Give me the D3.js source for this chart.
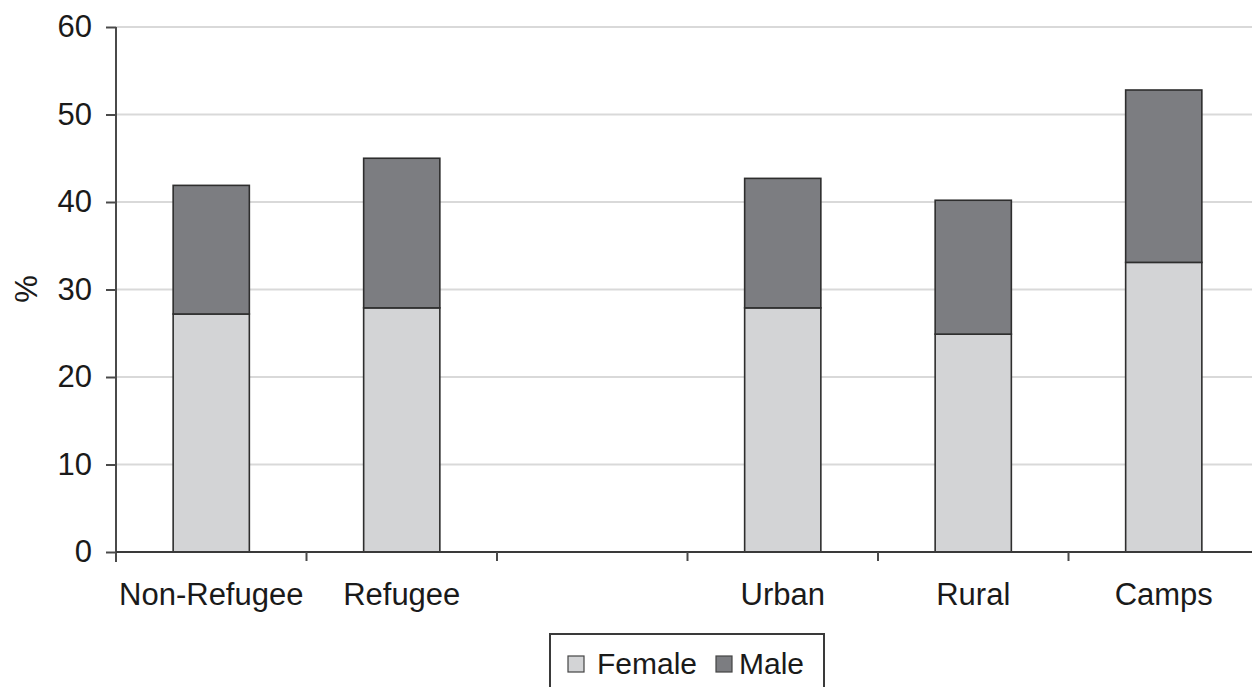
<!DOCTYPE html>
<html>
<head>
<meta charset="utf-8">
<script src="https://cdn.jsdelivr.net/npm/d3@7"></script>
<style>
  html, body { margin: 0; padding: 0; background: #fff; }
  svg { display: block; font-family: "Liberation Sans", Arial, sans-serif; }
</style>
</head>
<body>
<svg id="chart" width="1252" height="687"></svg>
<script>
// Share (%) by group, stacked Female + Male; the empty slot separates the two groupings
const categories = ["Non-Refugee", "Refugee", "", "Urban", "Rural", "Camps"];
const female = [27.2, 27.9, null, 27.9, 24.9, 33.1];
const male   = [14.7, 17.1, null, 14.8, 15.3, 19.7];
const yTicks = [0, 10, 20, 30, 40, 50, 60];
const seriesNames = ["Female", "Male"];
const seriesColors = ["#d3d4d6", "#7c7d81"];

(function draw() {
  const svg = d3.select("#chart");
  const W = 1252;
  const plotLeft = 116, plotBottom = 552, plotTop = 27;
  const slot = 190.5;

  const x = d3.scaleBand()
    .domain(categories.map((c, i) => i))
    .range([plotLeft, plotLeft + slot * categories.length])
    .paddingInner(0).paddingOuter(0);

  const y = d3.scaleLinear().domain([0, 60]).range([plotBottom, plotTop]);

  // gridlines
  svg.append("g").selectAll("line")
    .data(yTicks.filter(t => t > 0))
    .join("line")
    .attr("x1", plotLeft).attr("x2", W)
    .attr("y1", d => y(d)).attr("y2", d => y(d))
    .attr("stroke", "#d9d9d9").attr("stroke-width", 2);

  // stacked bars
  const rows = categories.map((c, i) => ({ i, Female: female[i], Male: male[i] }))
    .filter(r => r.Female != null);
  const stack = d3.stack().keys(seriesNames)(rows);
  const barW = x.bandwidth() * 0.4;

  svg.append("g").selectAll("g")
    .data(stack)
    .join("g")
    .attr("fill", (d, k) => seriesColors[k])
    .selectAll("rect")
    .data(d => d)
    .join("rect")
    .attr("x", d => x(d.data.i) + (x.bandwidth() - barW) / 2)
    .attr("width", barW)
    .attr("y", d => y(d[1]))
    .attr("height", d => y(d[0]) - y(d[1]))
    .attr("stroke", "#2e2e2e")
    .attr("stroke-width", 1.6);

  // y axis
  const yAxis = d3.axisLeft(y).tickValues(yTicks).tickSize(10).tickPadding(14).tickSizeOuter(0);
  const gy = svg.append("g").attr("transform", `translate(${plotLeft},0)`).call(yAxis);
  gy.select(".domain").remove();
  gy.selectAll(".tick line").attr("stroke", "#4a4a4a").attr("stroke-width", 2);
  gy.selectAll(".tick text").attr("font-size", 31).attr("fill", "#1a1a1a")
    .attr("font-family", "Liberation Sans, Arial, sans-serif");
  svg.append("line")
    .attr("x1", plotLeft).attr("x2", plotLeft)
    .attr("y1", plotTop).attr("y2", plotBottom + 10)
    .attr("stroke", "#4a4a4a").attr("stroke-width", 2);

  // x axis with ticks on slot boundaries
  svg.append("line")
    .attr("x1", plotLeft).attr("x2", W)
    .attr("y1", plotBottom).attr("y2", plotBottom)
    .attr("stroke", "#3a3a3a").attr("stroke-width", 2);
  const bounds = categories.map((c, i) => x(i)).concat([x(categories.length - 1) + x.bandwidth()]);
  svg.append("g").selectAll("line")
    .data(bounds.slice(1))
    .join("line")
    .attr("x1", d => d).attr("x2", d => d)
    .attr("y1", plotBottom).attr("y2", plotBottom + 9)
    .attr("stroke", "#4a4a4a").attr("stroke-width", 2);
  svg.append("g").selectAll("text")
    .data(categories.map((c, i) => ({ c, i })).filter(d => d.c))
    .join("text")
    .attr("x", d => x(d.i) + x.bandwidth() / 2)
    .attr("y", 605)
    .attr("text-anchor", "middle")
    .attr("font-size", 31)
    .attr("fill", "#1a1a1a")
    .text(d => d.c);

  // y axis title
  svg.append("text")
    .attr("transform", "translate(37,289) rotate(-90)")
    .attr("text-anchor", "middle")
    .attr("font-size", 31)
    .attr("fill", "#1a1a1a")
    .text("%");

  // legend
  const lg = svg.append("g");
  lg.append("rect")
    .attr("x", 550).attr("y", 634).attr("width", 274).attr("height", 70)
    .attr("fill", "#fff").attr("stroke", "#3a3a3a").attr("stroke-width", 2);
  const legendX = [568, 716];
  const legendTextX = [597, 739];
  seriesNames.forEach((name, k) => {
    lg.append("rect")
      .attr("x", legendX[k]).attr("y", 656).attr("width", 16).attr("height", 16)
      .attr("fill", seriesColors[k]).attr("stroke", "#444").attr("stroke-width", 1.2);
    lg.append("text")
      .attr("x", legendTextX[k]).attr("y", 674)
      .attr("font-size", 30)
      .attr("fill", "#1a1a1a")
      .text(name);
  });
})();
</script>
</body>
</html>
